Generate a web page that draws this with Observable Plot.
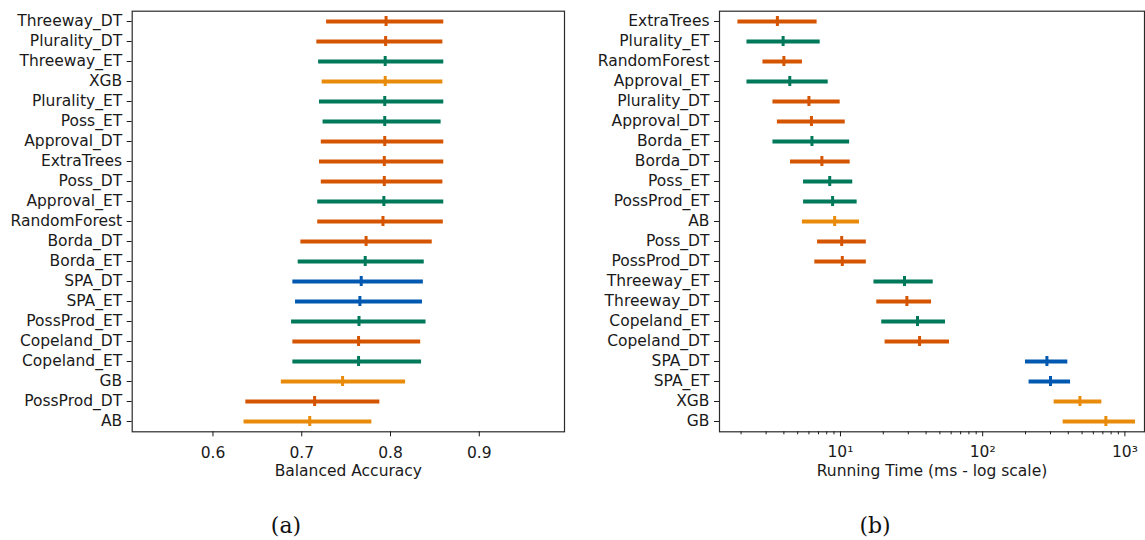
<!DOCTYPE html>
<html>
<head>
<meta charset="utf-8">
<script src="https://cdn.jsdelivr.net/npm/d3@7"></script>
<script src="https://cdn.jsdelivr.net/npm/@observablehq/plot@0.6"></script>
<style>
  html, body { margin: 0; padding: 0; background: #fff; }
  #wrap { position: relative; width: 1145px; height: 540px; overflow: hidden; background: #fff; }
  .panel { position: absolute; top: 0; }
  .sub { position: absolute; font-family: "DejaVu Serif", serif; font-size: 22px; color: #111; transform: translate(-50%, -50%); white-space: nowrap; }
</style>
</head>
<body>
<div id="wrap"></div>
<script>
// ---- Panel (a): Balanced Accuracy ----
const accModels = ["Threeway_DT","Plurality_DT","Threeway_ET","XGB","Plurality_ET","Poss_ET","Approval_DT","ExtraTrees","Poss_DT","Approval_ET","RandomForest","Borda_DT","Borda_ET","SPA_DT","SPA_ET","PossProd_ET","Copeland_DT","Copeland_ET","GB","PossProd_DT","AB"];
const accMean = [0.795,0.7945,0.794,0.794,0.7935,0.7935,0.7935,0.793,0.793,0.7925,0.7915,0.7725,0.7715,0.767,0.7655,0.7645,0.764,0.764,0.746,0.7145,0.709];
const accLow  = [0.728,0.717,0.719,0.723,0.720,0.724,0.722,0.720,0.722,0.718,0.718,0.699,0.696,0.690,0.693,0.6885,0.690,0.690,0.677,0.637,0.635];
const accHigh = [0.860,0.859,0.860,0.859,0.860,0.857,0.860,0.860,0.859,0.860,0.8595,0.847,0.838,0.837,0.836,0.840,0.834,0.835,0.817,0.788,0.779];
const accTicks = [0.6, 0.7, 0.8, 0.9];

// ---- Panel (b): Running time (ms) ----
const timeModels = ["ExtraTrees","Plurality_ET","RandomForest","Approval_ET","Plurality_DT","Approval_DT","Borda_ET","Borda_DT","Poss_ET","PossProd_ET","AB","Poss_DT","PossProd_DT","Threeway_ET","Threeway_DT","Copeland_ET","Copeland_DT","SPA_DT","SPA_ET","XGB","GB"];
const timeMean = [3.6,3.95,4.0,4.4,6.0,6.25,6.3,7.4,8.4,8.8,9.1,10.2,10.3,28.2,29.3,34.8,36.0,283,300,483,735];
const timeLow  = [1.9,2.2,2.85,2.2,3.35,3.6,3.35,4.45,5.5,5.5,5.4,6.9,6.6,17.2,18.0,19.5,20.6,200,212,318,368];
const timeHigh = [6.85,7.2,5.4,8.2,9.95,10.8,11.6,11.7,12.2,13.1,13.6,15.2,15.2,44.9,43.7,54.8,58.4,397,415,689,1188];
const timeMajorTicks = [10, 100, 1000];
const timeMinorTicks = [2,3,4,5,6,7,8,9,20,30,40,50,60,70,80,90,200,300,400,500,600,700,800,900];

// ---- groups / colours ----
const groupNames = ["DT", "ET", "SPA", "Boost"];
const groupColors = ["#d55400", "#00795a", "#0058b0", "#e88a0a"];
const boostModels = ["XGB", "GB", "AB"];
function groupOf(m) {
  if (m.startsWith("SPA")) return "SPA";
  if (boostModels.includes(m)) return "Boost";
  if (m.endsWith("_ET")) return "ET";
  return "DT";
}

function rows(models, mean, low, high) {
  return models.map((m, i) => ({model: m, mean: mean[i], low: low[i], high: high[i], group: groupOf(m)}));
}

const FS = 15.5;
const W = 570, H = 490, MT = 10.7, MB = H - 431.3;
const baseStyle = {fontFamily: "'DejaVu Sans', sans-serif", fontSize: FS + "px", color: "#1a1a1a", background: "transparent", overflow: "visible"};

function panel({data, models, x, xAxes, label, marginLeft, marginRight}) {
  return Plot.plot({
    width: W, height: H,
    marginLeft, marginRight, marginTop: MT, marginBottom: MB,
    style: baseStyle,
    x: {...x, label: null},
    y: {type: "band", domain: models, padding: 0, label: null},
    color: {domain: groupNames, range: groupColors},
    marks: [
      Plot.ruleY(data, {y: "model", x1: "low", x2: "high", stroke: "group", strokeWidth: 3.8}),
      Plot.tickX(data, {y: "model", x: "mean", stroke: "group", strokeWidth: 3, insetTop: 5, insetBottom: 5}),
      Plot.frame({stroke: "#2a2a2a", strokeWidth: 1.2}),
      Plot.axisY({tickSize: 5, tickPadding: 5, label: null, fontSize: FS}),
      ...xAxes,
      Plot.text([label], {frameAnchor: "bottom", dy: 44, text: d => d, fontSize: FS, fill: "#1a1a1a"})
    ]
  });
}

const wrap = document.getElementById("wrap");

const left = panel({
  data: rows(accModels, accMean, accLow, accHigh),
  models: accModels,
  x: {domain: [0.509, 0.996]},
  xAxes: [Plot.axisX({ticks: accTicks, tickSize: 5, tickPadding: 10, tickFormat: d3.format(".1f"), label: null, fontSize: FS})],
  label: "Balanced Accuracy",
  marginLeft: 131.7, marginRight: W - 564
});
left.classList.add("panel");
left.style.left = "0px";
wrap.appendChild(left);

const sup = {"1": "¹", "2": "²", "3": "³"};
const right = panel({
  data: rows(timeModels, timeMean, timeLow, timeHigh),
  models: timeModels,
  x: {type: "log", domain: [1.41, 1374]},
  xAxes: [
    Plot.axisX({ticks: timeMinorTicks, tickSize: 3, tickFormat: () => "", label: null}),
    Plot.axisX({ticks: timeMajorTicks, tickSize: 5, tickPadding: 9, tickFormat: d => "10" + sup[String(Math.round(Math.log10(d)))], label: null, fontSize: FS})
  ],
  label: "Running Time (ms - log scale)",
  marginLeft: 144, marginRight: 1
});
right.classList.add("panel");
right.style.left = "575px";
wrap.appendChild(right);

for (const [t, cx] of [["(a)", 286], ["(b)", 875]]) {
  const d = document.createElement("div");
  d.className = "sub";
  d.textContent = t;
  d.style.left = cx + "px";
  d.style.top = "525px";
  wrap.appendChild(d);
}
</script>
</body>
</html>
